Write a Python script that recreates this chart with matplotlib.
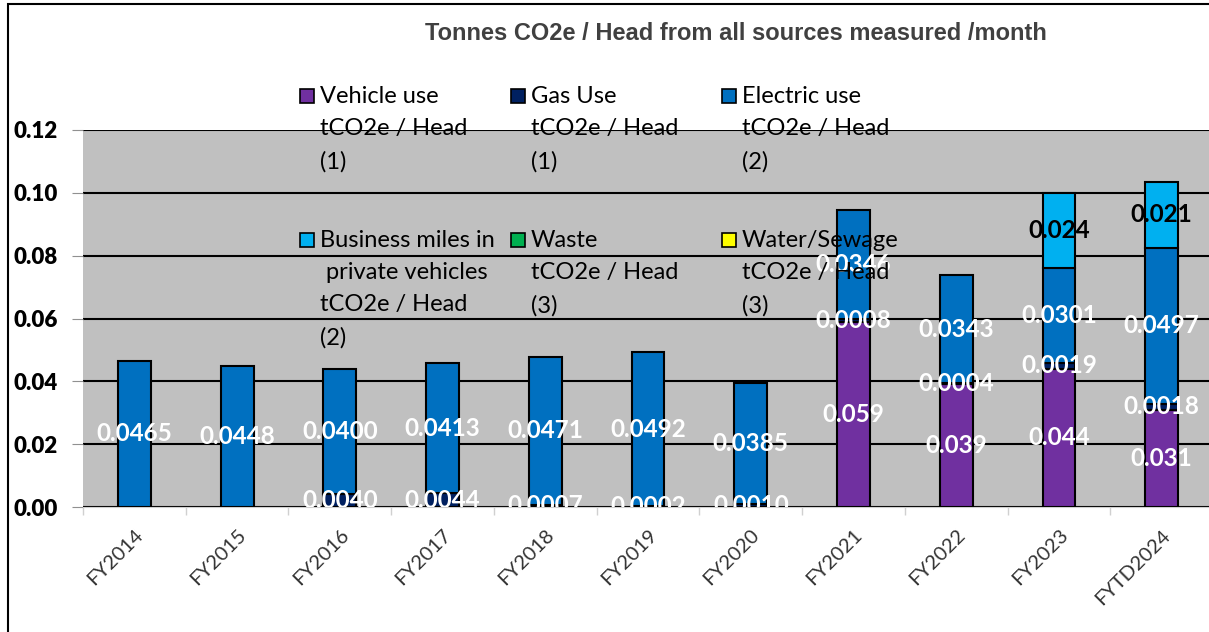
import numpy as np
import matplotlib
matplotlib.use("Agg")
import matplotlib.pyplot as plt
from matplotlib.patches import Rectangle

# 数据：各年份每人每月的 tCO2e
years = ["FY2014", "FY2015", "FY2016", "FY2017", "FY2018", "FY2019",
         "FY2020", "FY2021", "FY2022", "FY2023", "FYTD2024"]
vehicle = [0, 0, 0, 0, 0, 0, 0, 0.059, 0.039, 0.044, 0.031]
gas = [0, 0, 0.0040, 0.0044, 0.0007, 0.0002, 0.0010, 0.0008, 0.0004, 0.0019, 0.0018]
electric = [0.0465, 0.0448, 0.0400, 0.0413, 0.0471, 0.0492, 0.0385, 0.0346, 0.0343, 0.0301, 0.0497]
business = [0, 0, 0, 0, 0, 0, 0, 0, 0, 0.024, 0.021]
waste = [0] * 11
water = [0] * 11

series_names = ["Vehicle use\ntCO2e / Head\n(1)",
                "Gas Use\ntCO2e / Head\n(1)",
                "Electric use\ntCO2e / Head\n(2)",
                "Business miles in\n private vehicles\ntCO2e / Head\n(2)",
                "Waste\ntCO2e / Head\n(3)",
                "Water/Sewage\ntCO2e / Head\n(3)"]
colors = ["#7030A0", "#002060", "#0070C0", "#00B0F0", "#00B050", "#FFFF00"]
label_fmt = ["{:.3f}", "{:.4f}", "{:.4f}", "{:.3f}", "{:.4f}", "{:.4f}"]
label_col = ["white", "white", "white", "black", "white", "white"]

W, H = 1209, 632
fig = plt.figure(figsize=(W / 100, H / 100), dpi=100)
ax = fig.add_axes([83 / W, 1 - 507 / H, (1209 - 83) / W, (507 - 130) / H])
ax.set_facecolor("#C0C0C0")

x = np.arange(len(years))
bottom = np.zeros(len(years))
all_series = [vehicle, gas, electric, business, waste, water]
for k, vals in enumerate(all_series):
    vals = np.array(vals, dtype=float)
    for i in range(len(years)):
        if vals[i] <= 0:
            continue
        ax.bar(x[i], vals[i], bottom=bottom[i], width=0.32, color=colors[k],
               edgecolor="black", linewidth=1.5, zorder=3)
        ax.text(x[i], bottom[i] + vals[i] / 2, label_fmt[k].format(vals[i]),
                ha="center", va="center", color=label_col[k], fontsize=17.5,
                fontweight="bold", family=["Lato", "DejaVu Sans"],
                zorder=5, clip_on=True)
    bottom += vals

ax.set_ylim(0, 0.12)
ax.set_xlim(-0.5, 10.46)
ax.set_yticks(np.arange(0, 0.121, 0.02))
ax.set_yticklabels(["%.2f" % v for v in np.arange(0, 0.121, 0.02)],
                   fontsize=16, fontweight="heavy", family=["Lato", "DejaVu Sans"])
ax.yaxis.grid(True, color="black", linewidth=1.5, zorder=1)
ax.set_axisbelow(True)
ax.tick_params(axis="y", length=8, color="#909090", pad=10)

# x 轴：分类之间的刻度线
ax.set_xticks(x)
ax.set_xticklabels(years, rotation=45, ha="right", rotation_mode="anchor",
                   fontsize=14.5, color="#333333", family=["Lato", "DejaVu Sans"])
ax.tick_params(axis="x", length=0, pad=14)
ax.set_xticks(np.arange(-0.5, 10.5, 1), minor=True)
ax.tick_params(axis="x", which="minor", length=6, color="#D0D0D0", width=1)
for s in ["top", "right", "left"]:
    ax.spines[s].set_visible(False)
ax.spines["bottom"].set_color("#D0D0D0")

fig.text(736 / W, 1 - 33 / H, "Tonnes CO2e / Head from all sources measured /month",
         ha="center", va="center", fontsize=17, fontweight="bold", color="#404040",
         family=["Liberation Sans", "DejaVu Sans"])

# 手动画图例
for n in range(len(series_names)):
    r, c = divmod(n, 3)
    px = 300 + c * 211
    py = 96 + r * 144
    fig.patches.append(Rectangle((px / W, 1 - (py + 7) / H), 14 / W, 14 / H,
                                 transform=fig.transFigure, facecolor=colors[n],
                                 edgecolor="black", linewidth=1.2, zorder=6))
    fig.text((px + 20) / W, 1 - (py - 10) / H, series_names[n], ha="left", va="top",
             fontsize=17, linespacing=1.66, color="black",
             family=["Lato", "DejaVu Sans"], zorder=6)

# 外框
fig.patches.append(Rectangle((8 / W, -0.1), 1.2, 1 - 4 / H + 0.1, transform=fig.transFigure,
                             fill=False, edgecolor="black", linewidth=1.5))

fig.savefig("out.png", dpi=100)
